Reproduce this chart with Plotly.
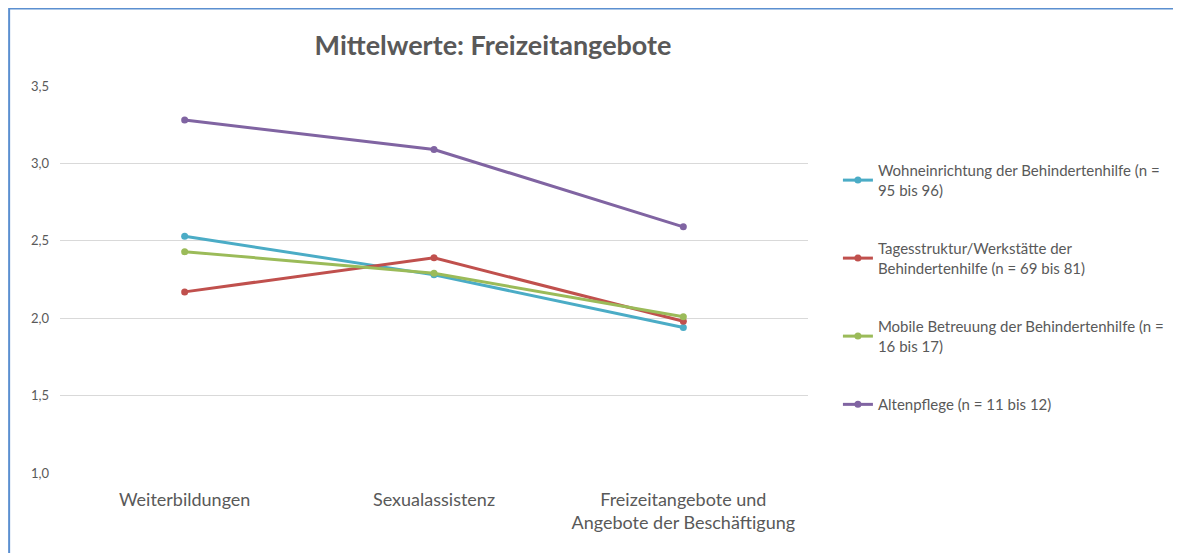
import plotly.graph_objects as go

# categories and series (mean values)
categories = ["Weiterbildungen", "Sexualassistenz",
              "Freizeitangebote und<br>Angebote der Beschäftigung"]

series_names = [
    "Wohneinrichtung der Behindertenhilfe (n =<br>95 bis 96)",
    "Tagesstruktur/Werkstätte der<br>Behindertenhilfe (n = 69 bis 81)",
    "Mobile Betreuung der Behindertenhilfe (n =<br>16 bis 17)",
    "Altenpflege (n = 11 bis 12)",
]
wohn = [2.53, 2.28, 1.94]
tages = [2.17, 2.39, 1.98]
mobile = [2.43, 2.29, 2.01]
alten = [3.28, 3.09, 2.59]

colors = ["#4BACC6", "#C0504D", "#9BBB59", "#8064A2"]
FONT = "Lato, 'Open Sans', sans-serif"
GREY = "#595959"

fig = go.Figure()
for i, (name, vals) in enumerate(zip(series_names, [wohn, tages, mobile, alten])):
    fig.add_trace(go.Scatter(
        x=categories, y=vals, name=name, mode="lines+markers",
        line=dict(color=colors[i], width=3),
        marker=dict(color=colors[i], size=7),
        legendgroup=f"g{i}",
    ))

# page body adds 8px margin, so the figure is a bit smaller than the window
fig.update_layout(
    width=1173, height=545,
    margin=dict(l=52, r=373, t=78, b=80, autoexpand=False),
    paper_bgcolor="white", plot_bgcolor="white",
    font=dict(family=FONT, color=GREY),
    separators=",.",
    title=dict(text="<b>Mittelwerte: Freizeitangebote</b>", x=0.4135, xanchor="center",
               y=0.932, yanchor="middle", font=dict(size=27, color=GREY, family=FONT)),
    xaxis=dict(range=[-0.5, 2.5], showgrid=False, showline=False, ticks="",
               tickfont=dict(size=18, color=GREY), ticklabelstandoff=14, automargin=False),
    yaxis=dict(range=[1.0, 3.5], dtick=0.5, tickformat=".1f", showgrid=True,
               gridcolor="#D9D9D9", gridwidth=1, zeroline=False, showline=False,
               tickfont=dict(size=13, color=GREY), ticklabelstandoff=10, automargin=False),
    legend=dict(x=1.04, xanchor="left", y=0.824, yanchor="top",
                font=dict(size=15, color=GREY, family=FONT),
                tracegroupgap=36, itemwidth=30, bgcolor="rgba(0,0,0,0)"),
    showlegend=True,
)

# chart border (top and left edges visible in the reference)
fig.add_shape(type="rect", xref="paper", yref="paper", x0=-0.068, x1=1.6,
              y0=1.2, y1=-0.5, line=dict(color="#5B8FD0", width=2))

fig.write_html("out.html")
